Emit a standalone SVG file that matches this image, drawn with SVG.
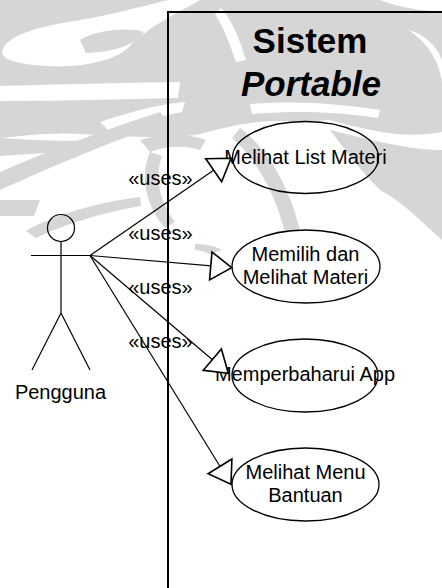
<svg xmlns="http://www.w3.org/2000/svg" width="442" height="588" viewBox="0 0 442 588">
  <style>
    .wm { fill: #d6d6d6; stroke: none; }
    .wmw { fill: #ffffff; stroke: none; }
    .ln { stroke: #000; stroke-width: 1.2; fill: none; }
    .uc { stroke: #000; stroke-width: 1.3; fill: none; }
    .txt { font-family: "Liberation Sans", Arial, sans-serif; font-size: 20px; fill: #000; text-anchor: middle; }
    .title { font-family: "Liberation Sans", Arial, sans-serif; font-size: 35px; font-weight: bold; fill: #000; text-anchor: middle; }
  </style>
  <defs>
    <marker id="gen" viewBox="-24 -16 26 32" markerWidth="26" markerHeight="32" refX="0" refY="0" orient="auto" markerUnits="userSpaceOnUse" overflow="visible">
      <path d="M0,0 L-21,-14 L-21,14 Z" fill="#fff" stroke="#000" stroke-width="1.6" stroke-linejoin="miter"/>
    </marker>
  </defs>

  <rect width="442" height="588" fill="#fff"/>

  <!-- faint background emblem -->
  <g id="emblem">
    <path class="wm" d="M0,0 H442 V132 C400,140 360,128 330,120 L300,122 C260,118 230,126 200,134 C170,140 120,136 80,134 C50,132 20,136 0,138 Z"/>
    <path class="wmw" d="M2,52 C5,35 40,26 80,20 C110,15 140,7 168,0 L200,0 C180,12 150,25 128,48 C112,62 80,68 45,66 C18,64 2,60 2,52 Z"/>
    <path class="wm" d="M80,40 C96,30 128,27 144,32 C136,45 114,52 86,53 Z"/>
    <path class="wmw" d="M0,86 C60,84 120,83 180,82 L178,98 C120,99 60,101 0,101 Z"/>
    <path class="wmw" d="M100,122 C130,112 160,104 185,102 L182,112 C160,116 130,124 108,130 Z"/>
    <path class="wmw" d="M221,8 C232,20 240,40 246,60 L236,62 C230,45 224,28 215,14 Z"/>
    <path class="wmw" d="M380,0 H442 V12 C420,10 400,8 380,0 Z"/>
    <path class="wmw" d="M408,30 C425,40 440,60 442,84 V60 C436,45 424,34 408,30 Z"/>
    <path class="wmw" d="M250,104 C300,100 340,104 380,110 L378,118 C340,112 300,110 252,114 Z"/>
    <path class="wm" d="M0,172 C50,150 110,128 160,112 L168,122 C115,140 55,165 0,190 Z"/>
    <path class="wm" d="M26,231 C55,214 100,202 140,197 L141,206 C105,212 65,224 36,238 Z"/>
    <path class="wm" d="M0,200 H40 L34,216 H0 Z"/>
    <path class="wm" d="M140,140 C165,132 190,134 206,140 L200,150 C185,145 165,146 150,152 Z"/>
    <path class="wm" d="M150,152 C140,175 145,205 165,228 L175,222 C158,200 155,175 162,156 Z"/>
    <path class="wm" d="M0,138 C30,140 70,142 110,140 L90,150 C60,152 30,154 0,156 Z"/>
    <path class="wm" d="M330,130 C370,140 410,150 442,150 V240 C420,220 400,200 380,190 C360,170 345,150 330,130 Z"/>
    <path class="wm" d="M240,128 C270,150 290,190 300,230 L285,232 C275,195 258,160 232,138 Z"/>
    <path class="wm" d="M195,244 C205,244 215,246 222,250 L210,254 C205,252 200,250 195,250 Z"/>
  </g>

  <!-- system boundary -->
  <g id="system">
    <path d="M168,588 V12 H442" stroke="#000" stroke-width="2" fill="none"/>
    <text class="title" x="310" y="53">Sistem</text>
    <text class="title" x="311" y="96" font-style="italic">Portable</text>
  </g>

  <!-- actor -->
  <g id="pengguna">
    <circle class="ln" cx="61" cy="228" r="13.5"/>
    <path class="ln" d="M61,241.5 V313 M31,255.5 H90 M61,313 L32,370 M61,313 L90,370"/>
    <text class="txt" x="60.5" y="399">Pengguna</text>
  </g>

  <!-- use cases -->
  <g id="uc-list">
    <ellipse class="uc" cx="305.5" cy="157.5" rx="73" ry="36"/>
    <text class="txt" x="305.5" y="163.5">Melihat List Materi</text>
  </g>
  <g id="uc-pilih">
    <ellipse class="uc" cx="306" cy="266.5" rx="74" ry="36.5"/>
    <text class="txt" x="305.5" y="260.5">Memilih dan</text>
    <text class="txt" x="305.5" y="283.5">Melihat Materi</text>
  </g>
  <g id="uc-update">
    <ellipse class="uc" cx="305" cy="375.5" rx="73" ry="36.5"/>
    <text class="txt" x="305" y="381">Memperbaharui App</text>
  </g>
  <g id="uc-bantuan">
    <ellipse class="uc" cx="305.5" cy="484.5" rx="73.5" ry="36.5"/>
    <text class="txt" x="305.5" y="479.3">Melihat Menu</text>
    <text class="txt" x="305.5" y="502.3">Bantuan</text>
  </g>

  <!-- connectors -->
  <g id="connectors">
    <line class="ln" x1="90" y1="255.5" x2="231" y2="158.3" marker-end="url(#gen)"/>
    <line class="ln" x1="90" y1="255.5" x2="231.7" y2="267.7" marker-end="url(#gen)"/>
    <line class="ln" x1="90" y1="255.5" x2="228.3" y2="373.3" marker-end="url(#gen)"/>
    <line class="ln" x1="90" y1="255.5" x2="231" y2="484.3" marker-end="url(#gen)"/>
    <text class="txt" x="160.5" y="185">«uses»</text>
    <text class="txt" x="160.5" y="240">«uses»</text>
    <text class="txt" x="160.5" y="294">«uses»</text>
    <text class="txt" x="160.5" y="348.3">«uses»</text>
  </g>
</svg>
